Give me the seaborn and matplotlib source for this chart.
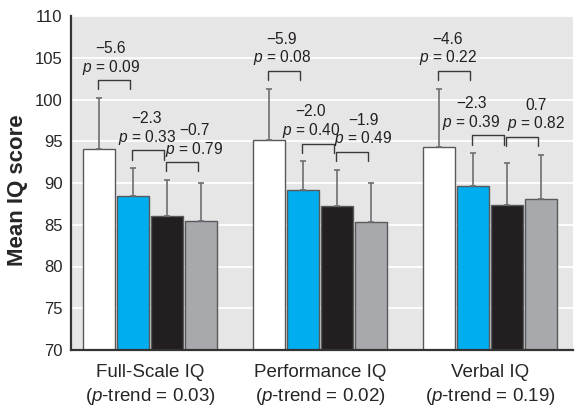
import pandas as pd
import numpy as np
import seaborn as sns
import matplotlib.pyplot as plt

# Data
tests = ["Full-Scale IQ", "Performance IQ", "Verbal IQ"]
p_trend = ["0.03", "0.02", "0.19"]
groups = ["Group 1", "Group 2", "Group 3", "Group 4"]
colors = ["#ffffff", "#00aeef", "#231f20", "#a7a9ac"]

fsiq_mean = [94.1, 88.4, 86.1, 85.4]
piq_mean = [95.2, 89.2, 87.2, 85.3]
viq_mean = [94.3, 89.7, 87.4, 88.1]

fsiq_sd = [6.1, 3.4, 4.3, 4.6]
piq_sd = [6.1, 3.4, 4.4, 4.7]
viq_sd = [7.0, 3.9, 5.0, 5.3]

fsiq_diff = [-5.6, -2.3, -0.7]
piq_diff = [-5.9, -2.0, -1.9]
viq_diff = [-4.6, -2.3, 0.7]

fsiq_p = ["0.09", "0.33", "0.79"]
piq_p = ["0.08", "0.40", "0.49"]
viq_p = ["0.22", "0.39", "0.82"]

means = [fsiq_mean, piq_mean, viq_mean]
sds = [fsiq_sd, piq_sd, viq_sd]
diffs = [fsiq_diff, piq_diff, viq_diff]
pvals = [fsiq_p, piq_p, viq_p]

# horizontal nudge of each annotation (points), as placed in the original
label_shift = [[-2.7, -1.1, 8.6], [-1.9, -5.4, 7.9], [-4.8, -12.2, 9.7]]

# long-form table for seaborn
rows = []
for t, m in zip(tests, means):
    for g, v in zip(groups, m):
        rows.append({"test": t, "group": g, "mean": v})
df = pd.DataFrame(rows)

sns.set_style("white")
plt.rcParams["font.family"] = ["Liberation Sans", "DejaVu Sans"]
plt.rcParams["mathtext.fontset"] = "custom"
plt.rcParams["mathtext.rm"] = "Liberation Sans"
plt.rcParams["mathtext.it"] = "Liberation Sans:italic"

fig = plt.figure(figsize=(5.79, 4.12), dpi=100)
ax = fig.add_axes([71 / 579, 1 - 350 / 412, 502 / 579, 334 / 412])
ax.set_facecolor("#e6e6e6")

sns.barplot(data=df, x="test", y="mean", hue="group", palette=colors,
            saturation=1, edgecolor="#58595b", linewidth=1, gap=0.08,
            errorbar=None, legend=False, ax=ax, zorder=2)

ax.set_ylim(70, 110)
ax.set_yticks(np.arange(70, 111, 5))
ax.set_xlim(-0.465, 2.488)
ax.grid(axis="y", color="white", linewidth=1.3, zorder=0)
ax.set_axisbelow(True)

# error bars (upper only) and comparison brackets
for i in range(len(tests)):
    xs = [ax.containers[h][i].get_x() + ax.containers[h][i].get_width() / 2
          for h in range(len(groups))]
    tops = [m + s for m, s in zip(means[i], sds[i])]
    ax.errorbar(xs, means[i], yerr=[np.zeros(len(groups)), sds[i]], fmt="none",
                ecolor="#6d6e71", elinewidth=1.2, capsize=2.5, capthick=1.2, zorder=3)
    for k in range(len(groups) - 1):
        yb = max(tops[k], tops[k + 1]) + 2.1
        x0, x1 = xs[k] - 0.005, xs[k + 1] - 0.015
        ax.plot([x0, x0, x1, x1], [yb - 1.1, yb, yb, yb - 1.1],
                color="#3a3a3a", linewidth=1, zorder=4, clip_on=False)
        xm = (x0 + x1) / 2
        dx = label_shift[i][k]
        dtxt = f"{diffs[i][k]:.1f}".replace("-", "\u2212")
        ax.annotate(f"$p$ = {pvals[i][k]}", (xm, yb), xytext=(dx, 6.2),
                    textcoords="offset points", ha="center", va="baseline",
                    fontsize=11.2, color="#231f20")
        ax.annotate(dtxt, (xm, yb), xytext=(dx, 19.8),
                    textcoords="offset points", ha="center", va="baseline",
                    fontsize=11.2, color="#231f20")

ax.set_xticks(range(len(tests)))
ax.set_xticklabels([f"{t}\n($p$-trend = {p})" for t, p in zip(tests, p_trend)],
                   fontsize=13.5, linespacing=1.35)
ax.tick_params(axis="y", labelsize=12, length=0, pad=6)
ax.tick_params(axis="x", length=0, pad=10)
ax.set_xlabel("")
ax.set_ylabel("Mean IQ score", fontsize=16, fontweight="bold", labelpad=5)
ax.yaxis.label.set_y(0.478)

for s in ["top", "right"]:
    ax.spines[s].set_visible(False)
for s in ["left", "bottom"]:
    ax.spines[s].set_color("#333333")
    ax.spines[s].set_linewidth(1.6)

plt.savefig("out.png", dpi=100)
